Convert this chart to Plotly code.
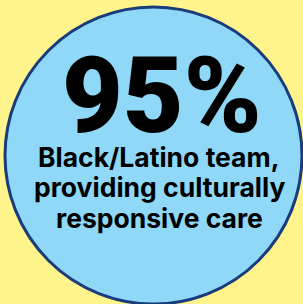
import plotly.graph_objects as go

percent_value = [95]
label_lines = ["Black/Latino team,", "providing culturally", "responsive care"]

W, H = 303, 304
fig = go.Figure()
fig.add_shape(type="circle", xref="x", yref="y",
              x0=5, x1=302, y0=7, y1=304,
              fillcolor="#8FD8F8", line=dict(color="#1A3C7C", width=3), layer="below")

fig.add_annotation(x=162, y=96, xref="x", yref="y", text=f"{percent_value[0]}%",
                   showarrow=False, xanchor="center", yanchor="middle",
                   font=dict(family="Roboto", size=105, color="#000000", weight=900))
ys = [156.5, 187, 218]
for t, y in zip(label_lines, ys):
    fig.add_annotation(x=159, y=y, xref="x", yref="y", text=t, showarrow=False,
                       xanchor="center", yanchor="middle",
                       font=dict(family="Inter", size=26.5, color="#000000", weight=700))

fig.update_xaxes(range=[0, W], visible=False, fixedrange=True)
fig.update_yaxes(range=[H, 0], visible=False, fixedrange=True)
fig.update_layout(width=W, height=H, margin=dict(l=0, r=0, t=0, b=0),
                  paper_bgcolor="#FFF48C", plot_bgcolor="#FFF48C", showlegend=False)
fig.write_html("out.html", config={"displayModeBar": False},
               post_script="document.body.style.margin='0';document.body.style.overflow='hidden';")
